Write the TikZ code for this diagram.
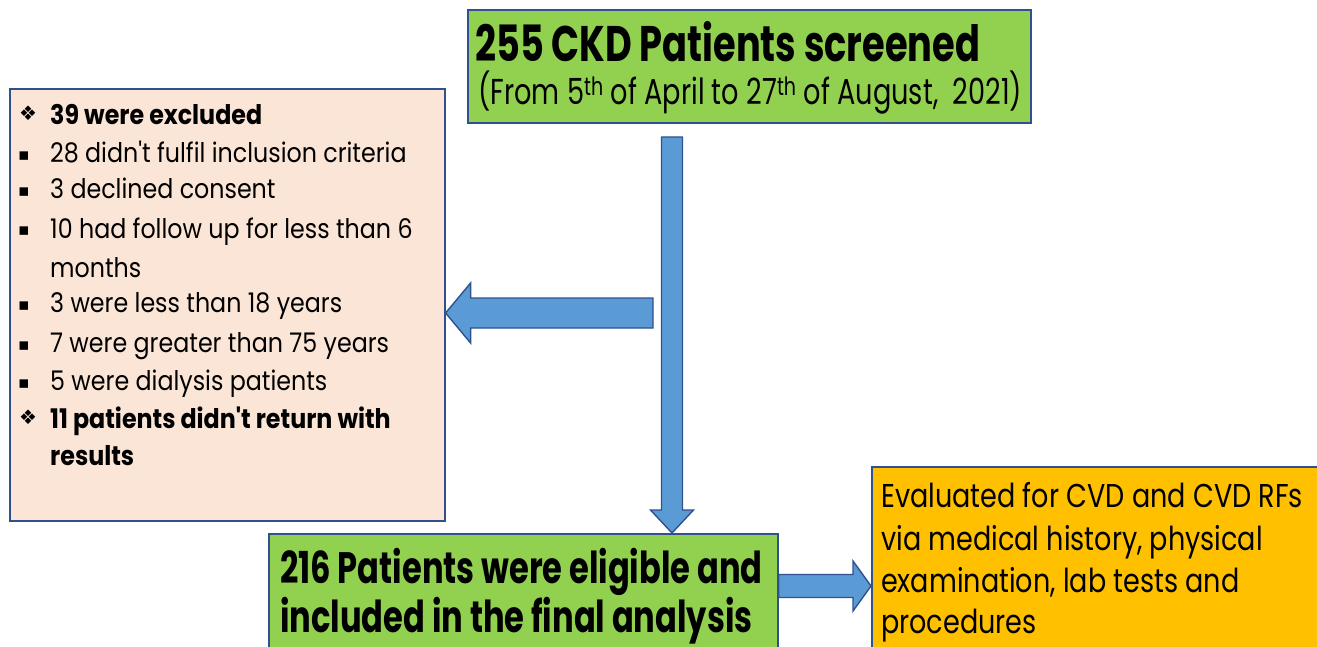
\documentclass[tikz,border=0pt]{standalone}
\usepackage{fontspec}
\setmainfont{Poppins}
\newfontfamily\fontA[FakeStretch=0.735]{Poppins}
\newfontfamily\fontB[FakeStretch=0.755]{Poppins}
\newfontfamily\fontC[FakeStretch=0.88]{Poppins}
\newfontfamily\fontD[FakeStretch=0.73]{Poppins}
\newfontfamily\fontE[FakeStretch=0.82]{Poppins}
\newfontfamily\symfont{DejaVu Sans}
\usetikzlibrary{calc}
\definecolor{boxgreen}{HTML}{92D050}
\definecolor{boxpeach}{HTML}{FBE5D6}
\definecolor{boxorange}{HTML}{FFC000}
\definecolor{arrowblue}{HTML}{5B9BD5}
\definecolor{edgeblue}{HTML}{2F528F}
\tikzset{
  box/.style={draw=edgeblue, line width=1.6pt, anchor=north west, inner sep=0pt},
  txt/.style={anchor=base west, inner sep=0pt, text=black},
  blockarrow/.style={fill=arrowblue, draw=edgeblue, line width=1.4pt, line join=miter},
}
\begin{document}
\begin{tikzpicture}[x=1pt,y=-1pt]
\useasboundingbox (0,0) rectangle (1317,647);
% boxes
\node[box, fill=boxgreen, minimum width=563pt, minimum height=113pt] (top) at (467,9) {};
\node[box, fill=boxpeach, minimum width=435pt, minimum height=432pt] (ex) at (9,88) {};
\node[box, fill=boxgreen, minimum width=509pt, minimum height=130pt] (bot) at (268,533) {};
\node[box, fill=boxorange, minimum width=470pt, minimum height=200pt] (ev) at (871,466) {};
% top text
\node[txt, font=\fontA\bfseries\fontsize{50}{55}\selectfont] (t1) at (475,62) {255 CKD Patients screened};
\node[txt, font=\fontB\fontsize{36}{40}\selectfont] (t2) at (478,105) {(From 5\textsuperscript{th} of April to 27\textsuperscript{th} of August,\ \ 2021)};
% exclusion text
\tikzset{ex/.style={txt, font=\fontC\fontsize{27}{30}\selectfont}, exb/.style={txt, font=\fontC\bfseries\fontsize{27}{30}\selectfont}, bul/.style={txt, font=\symfont\fontsize{20}{22}\selectfont}, sq/.style={txt, font=\symfont\fontsize{17}{20}\selectfont}}
\node[bul] (b1) at (19,121) {❖};
\node[exb] (e1) at (50,125) {39 were excluded};
\node[sq] (b2) at (18,161) {▪};
\node[ex] (e2) at (50,163) {28 didn't fulfil inclusion criteria};
\node[sq] (b3) at (18,197) {▪};
\node[ex] (e3) at (50,199) {3 declined consent};
\node[sq] (b4) at (18,236) {▪};
\node[ex] (e4) at (50,238) {10 had follow up for less than 6};
\node[ex] (e4b) at (50,277) {months};
\node[sq] (b5) at (18,310) {▪};
\node[ex] (e5) at (50,312) {3 were less than 18 years};
\node[sq] (b6) at (18,350) {▪};
\node[ex] (e6) at (50,352) {7 were greater than 75 years};
\node[sq] (b7) at (18,388) {▪};
\node[ex] (e7) at (50,390) {5 were dialysis patients};
\node[bul] (b8) at (19,424) {❖};
\node[exb] (e8) at (50,428) {11 patients didn't return with};
\node[exb] (e8b) at (50,465) {results};
% bottom green text
\node[txt, font=\fontD\bfseries\fontsize{44}{48}\selectfont] (g1) at (280,583) {216 Patients were eligible and};
\node[txt, font=\fontD\bfseries\fontsize{44}{48}\selectfont] (g2) at (280,632) {included in the final analysis};
% orange text
\tikzset{ev/.style={txt, font=\fontE\fontsize{33}{36}\selectfont}}
\node[ev] (o1) at (881,507) {Evaluated for CVD and CVD RFs};
\node[ev] (o2) at (881,550) {via medical history, physical};
\node[ev] (o3) at (881,592) {examination, lab tests and};
\node[ev] (o4) at (881,633) {procedures};
% arrows
\coordinate (vs) at (672,137);
\coordinate (vt) at (vs |- bot.north);
\draw[blockarrow] ($(vs)+(-10.5,0)$) -- ($(vt)+(-10.5,-23)$) -- ($(vt)+(-21.5,-23)$) -- (vt)
  -- ($(vt)+(21.5,-23)$) -- ($(vt)+(10.5,-23)$) -- ($(vs)+(10.5,0)$) -- cycle;
\coordinate (ls) at (653,313);
\coordinate (lt) at (ex.east |- ls);
\draw[blockarrow] ($(ls)+(0,-15)$) -- ($(lt)+(25,-15)$) -- ($(lt)+(25,-30)$) -- (lt)
  -- ($(lt)+(25,30)$) -- ($(lt)+(25,15)$) -- ($(ls)+(0,15)$) -- cycle;
\coordinate (rs) at (bot.east |- 0,586);
\coordinate (rt) at (ev.west |- rs);
\draw[blockarrow] ($(rs)+(0,-11.5)$) -- ($(rt)+(-18,-11.5)$) -- ($(rt)+(-18,-25)$) -- (rt)
  -- ($(rt)+(-18,25)$) -- ($(rt)+(-18,11.5)$) -- ($(rs)+(0,11.5)$) -- cycle;
\end{tikzpicture}
\end{document}
